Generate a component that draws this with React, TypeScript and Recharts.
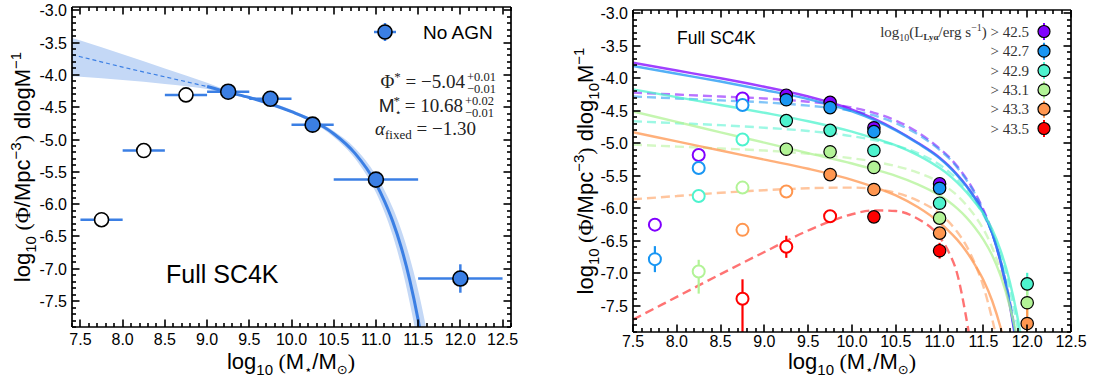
import React from 'react';
import { ComposedChart, Line, Area, Scatter, ErrorBar, XAxis, YAxis } from 'recharts';

const SANS = '"Liberation Sans", Arial, sans-serif';
const SERIF = '"Liberation Serif", "Times New Roman", serif';
const SYMBOL = '"DejaVu Sans", sans-serif';

// ---------- left panel: SC4K without AGN ----------
const noAgnOpenMass = [7.75, 8.25, 8.75];
const noAgnOpenPhi = [-6.24, -5.17, -4.31];
const noAgnOpenErr = [0.06, 0.03, 0.03];
const noAgnOpenBin = [0.25, 0.25, 0.25];

const noAgnMass = [9.25, 9.75, 10.25, 11.0, 12.0];
const noAgnPhi = [-4.26, -4.37, -4.77, -5.62, -7.15];
const noAgnErr = [0.03, 0.03, 0.04, 0.05, 0.22];
const noAgnBin = [0.25, 0.25, 0.25, 0.5, 0.5];

// Schechter fit, extrapolated part (dashed) and fitted range (solid)
const fitExtrapMass = [7.4, 7.5, 8.0, 8.5, 9.0];
const fitExtrapPhi = [-3.69, -3.72, -3.88, -4.03, -4.18];
const fitMass = [9.0, 9.25, 9.5, 9.75, 10.0, 10.25, 10.5, 10.75, 11.0, 11.1, 11.2, 11.3, 11.4, 11.5, 11.6];
const fitPhi = [-4.18, -4.27, -4.35, -4.45, -4.57, -4.71, -4.91, -5.21, -5.68, -5.95, -6.27, -6.67, -7.17, -7.79, -8.55];

// 1-sigma band of the fit
const bandMass = [7.4, 7.5, 8.0, 8.5, 9.0, 9.25, 9.5, 10.0, 10.5, 10.75, 11.0, 11.1, 11.2, 11.3, 11.4, 11.5, 11.6, 11.7];
const bandLow = [-4.02, -4.03, -4.08, -4.14, -4.22, -4.29, -4.37, -4.59, -4.96, -5.29, -5.82, -6.12, -6.49, -6.95, -7.52, -8.2, -9.0, -9.9];
const bandHigh = [-3.43, -3.47, -3.68, -3.9, -4.12, -4.24, -4.33, -4.54, -4.87, -5.13, -5.55, -5.78, -6.06, -6.4, -6.82, -7.33, -7.95, -8.7];

// ---------- right panel: Lya luminosity cuts ----------
const lumCuts = ['42.5', '42.7', '42.9', '43.1', '43.3', '43.5'];
const lumColors = ['#8000ff', '#1996f3', '#4df3ce', '#b2f396', '#ff964f', '#ff0000'];

const curveMass = [7.5, 8.0, 8.5, 9.0, 9.5, 10.0, 10.25, 10.5, 10.75, 11.0, 11.1, 11.2, 11.3, 11.4, 11.5, 11.6, 11.7, 11.8, 11.9, 12.0];

const solid425 = [-3.76, -3.88, -4.0, -4.13, -4.28, -4.48, -4.62, -4.79, -4.99, -5.22, -5.34, -5.48, -5.64, -5.83, -6.06, -6.38, -6.85, -7.48, -8.3, -9.2];
const solid427 = [-3.81, -3.93, -4.05, -4.18, -4.32, -4.51, -4.64, -4.8, -5.0, -5.23, -5.35, -5.49, -5.65, -5.84, -6.07, -6.38, -6.83, -7.45, -8.25, -9.1];
const solid429 = [-4.17, -4.29, -4.41, -4.53, -4.66, -4.82, -4.92, -5.03, -5.18, -5.38, -5.48, -5.6, -5.74, -5.9, -6.08, -6.32, -6.66, -7.12, -7.75, -8.6];
const solid431 = [-4.51, -4.67, -4.83, -4.99, -5.15, -5.31, -5.4, -5.5, -5.63, -5.8, -5.89, -6.0, -6.13, -6.29, -6.48, -6.72, -7.05, -7.5, -8.1, -8.9];
const solid433 = [-4.83, -4.97, -5.11, -5.25, -5.39, -5.56, -5.67, -5.8, -5.98, -6.22, -6.34, -6.48, -6.65, -6.86, -7.1, -7.42, -7.85, -8.4, -9.1, -10.0];

const dashed425 = [-4.22, -4.25, -4.28, -4.31, -4.36, -4.45, -4.53, -4.65, -4.83, -5.08, -5.2, -5.35, -5.53, -5.75, -6.02, -6.36, -6.82, -7.42, -8.2, -9.1];
const dashed427 = [-4.28, -4.31, -4.34, -4.37, -4.42, -4.5, -4.57, -4.69, -4.86, -5.1, -5.22, -5.37, -5.55, -5.77, -6.04, -6.38, -6.84, -7.45, -8.25, -9.1];
const dashed429 = [-4.66, -4.69, -4.72, -4.76, -4.81, -4.89, -4.95, -5.03, -5.15, -5.33, -5.43, -5.55, -5.7, -5.88, -6.1, -6.38, -6.75, -7.25, -7.9, -8.75];
const dashed431 = [-5.02, -5.05, -5.08, -5.11, -5.16, -5.23, -5.28, -5.35, -5.45, -5.6, -5.69, -5.8, -5.94, -6.11, -6.32, -6.6, -6.98, -7.48, -8.15, -9.0];
const dashed433 = [-5.86, -5.81, -5.76, -5.72, -5.69, -5.68, -5.7, -5.76, -5.88, -6.08, -6.2, -6.36, -6.56, -6.84, -7.2, -7.7, -8.3, -9.0, -9.8, -10.7];
const dashed435 = [-7.71, -7.36, -7.01, -6.67, -6.34, -6.09, -6.03, -6.04, -6.16, -6.44, -6.66, -7.0, -7.65, -8.5, -9.5];

// measured points per cut: open = below completeness, filled = used in the fits
const openMass425 = [7.75, 8.25, 8.75];
const openPhi425 = [-6.25, -5.18, -4.31];
const openErr425 = [[0.06, 0.06], [0.04, 0.04], [0.04, 0.04]];
const fillMass425 = [9.25, 9.75, 10.25, 11.0];
const fillPhi425 = [-4.26, -4.37, -4.76, -5.62];
const fillErr425 = [[0.03, 0.03], [0.03, 0.03], [0.04, 0.04], [0.05, 0.05]];

const openMass427 = [7.75, 8.25, 8.75];
const openPhi427 = [-6.78, -5.38, -4.41];
const openErr427 = [[0.2, 0.2], [0.04, 0.04], [0.03, 0.03]];
const fillMass427 = [9.25, 9.75, 10.25, 11.0];
const fillPhi427 = [-4.33, -4.45, -4.82, -5.69];
const fillErr427 = [[0.03, 0.03], [0.03, 0.03], [0.04, 0.04], [0.05, 0.05]];

const openMass429 = [8.25, 8.75];
const openPhi429 = [-5.81, -4.94];
const openErr429 = [[0.05, 0.05], [0.04, 0.04]];
const fillMass429 = [9.25, 9.75, 10.25, 11.0, 12.0];
const fillPhi429 = [-4.65, -4.8, -5.11, -5.92, -7.16];
const fillErr429 = [[0.03, 0.03], [0.03, 0.03], [0.04, 0.04], [0.06, 0.06], [0.17, 0.17]];

const openMass431 = [8.25, 8.75];
const openPhi431 = [-6.97, -5.68];
const openErr431 = [[0.34, 0.18], [0.06, 0.06]];
const fillMass431 = [9.25, 9.75, 10.25, 11.0, 12.0];
const fillPhi431 = [-5.09, -5.13, -5.37, -6.15, -7.45];
const fillErr431 = [[0.04, 0.04], [0.04, 0.04], [0.04, 0.04], [0.07, 0.07], [0.2, 0.2]];

const openMass433 = [8.75, 9.25];
const openPhi433 = [-6.33, -5.74];
const openErr433 = [[0.09, 0.09], [0.04, 0.04]];
const fillMass433 = [9.75, 10.25, 11.0, 12.0];
const fillPhi433 = [-5.48, -5.71, -6.38, -7.77];
const fillErr433 = [[0.04, 0.04], [0.04, 0.04], [0.08, 0.08], [0.25, 0.25]];

const openMass435 = [8.75, 9.25, 9.75];
const openPhi435 = [-7.39, -6.59, -6.12];
const openErr435 = [[1.0, 0.3], [0.17, 0.17], [0.06, 0.06]];
const fillMass435 = [10.25, 11.0];
const fillPhi435 = [-6.13, -6.65];
const fillErr435 = [[0.08, 0.08], [0.12, 0.12]];

// ---------- axes ----------
const Y_DOMAIN: [number, number] = [-7.9, -2.95];
const LEFT_X: [number, number] = [7.4, 12.6];
const RIGHT_X: [number, number] = [7.5, 12.5];
const tenths = (from: number, to: number) =>
  Array.from({ length: Math.round((to - from) * 10) + 1 }, (_, i) => Math.round((from + i * 0.1) * 10) / 10);
const isMajor = (v: number) => Math.abs(v * 2 - Math.round(v * 2)) < 1e-6;

const leftXTicks = tenths(7.4, 12.6);
const rightXTicks = tenths(7.5, 12.5);
const yTicks = tenths(-7.9, -3.0);

// plot boxes in page pixels (axis widths/heights below are derived from these)
type Box = { x0: number; x1: number; y0: number; y1: number };
const LEFT_BOX: Box = { x0: 72, x1: 511, y0: 7, y1: 327 };
const RIGHT_BOX: Box = { x0: 633, x1: 1071, y0: 10, y1: 332 };

const frame = { stroke: '#000', strokeWidth: 1.7 };
const tickFont = { fontFamily: SANS, fontSize: 16, fill: '#000' };

const xLabel = (gap: number) => (p: any) => (
  <text x={p.x} y={Number(p.y) + gap} textAnchor="middle" {...tickFont}>{Number(p.payload.value).toFixed(1)}</text>
);
const yLabel = (p: any) => (
  <text x={Number(p.x) - 5} y={Number(p.y) + 6} textAnchor="end" {...tickFont}>{Number(p.payload.value).toFixed(1)}</text>
);

// inward ticks on all four sides of a plot box: long every 0.5, short every 0.1
function TickMarks({ box, xDomain, xTicks }: { box: Box; xDomain: [number, number]; xTicks: number[] }) {
  const sx = (v: number) => Math.round(box.x0 + ((v - xDomain[0]) / (xDomain[1] - xDomain[0])) * (box.x1 - box.x0));
  const sy = (v: number) => Math.round(box.y1 - ((v - Y_DOMAIN[0]) / (Y_DOMAIN[1] - Y_DOMAIN[0])) * (box.y1 - box.y0));
  const len = (v: number) => (isMajor(v) ? 7.5 : 4);
  const marks: React.ReactNode[] = [];
  xTicks.forEach((v, i) => {
    const x = sx(v);
    marks.push(<rect key={`xb${i}`} x={x - 0.8} y={box.y1 - len(v)} width={1.6} height={len(v)} />);
    marks.push(<rect key={`xt${i}`} x={x - 0.8} y={box.y0} width={1.6} height={len(v)} />);
  });
  yTicks.forEach((v, i) => {
    const y = sy(v);
    marks.push(<rect key={`yl${i}`} x={box.x0} y={y - 0.8} width={len(v)} height={1.6} />);
    marks.push(<rect key={`yr${i}`} x={box.x1 - len(v)} y={y - 0.8} width={len(v)} height={1.6} />);
  });
  return <g fill="#000">{marks}</g>;
}

const lineData = (mass: number[], phi: number[]) => phi.map((p, i) => ({ x: mass[i], y: p }));

// error bars stop at the lower edge of the plot
const clipErr = (y: number, e: number | number[]) => {
  const [lo, hi] = Array.isArray(e) ? e : [e, e];
  return [Math.min(lo, y - Y_DOMAIN[0]), hi];
};
const pointData = (mass: number[], phi: number[], err: (number | number[])[], bin?: number[]) =>
  mass.map((m, i) => ({ x: m, y: phi[i], ey: clipErr(phi[i], err[i]), ex: bin ? bin[i] : 0 }));

const circle = (r: number, fill: string, stroke: string, sw: number) => (p: any) =>
  <circle cx={p.cx} cy={p.cy} r={r} fill={fill} stroke={stroke} strokeWidth={sw} />;

const NO_AGN = '#3b7fe4';

function LeftPanel() {
  const band = bandMass.map((m, i) => ({ x: m, band: [bandLow[i], bandHigh[i]] }));
  const W = 540;
  const H = 383;
  return (
    <ComposedChart width={W} height={H} margin={{ top: 0, right: 0, bottom: 0, left: 0 }}>
      <XAxis xAxisId="b" dataKey="x" type="number" orientation="bottom" domain={LEFT_X} allowDataOverflow
        ticks={leftXTicks.filter(isMajor)} interval={0} height={H - LEFT_BOX.y1} tickLine={false} tickSize={0}
        tickMargin={0} tick={xLabel(18)} axisLine={frame} />
      <XAxis xAxisId="t" type="number" orientation="top" domain={LEFT_X} allowDataOverflow
        height={LEFT_BOX.y0} tickLine={false} tick={false} axisLine={frame} />
      <YAxis yAxisId="l" type="number" orientation="left" domain={Y_DOMAIN} allowDataOverflow
        ticks={yTicks.filter(isMajor)} interval={0} width={LEFT_BOX.x0} tickLine={false} tickSize={0} tickMargin={0}
        tick={yLabel} axisLine={frame} />
      <YAxis yAxisId="r" type="number" orientation="right" domain={Y_DOMAIN} allowDataOverflow
        width={W - LEFT_BOX.x1} tickLine={false} tick={false} axisLine={frame} />

      <Area xAxisId="b" yAxisId="l" data={band} dataKey="band" type="monotone" stroke="none"
        fill="#c4d8f6" fillOpacity={1} isAnimationActive={false} activeDot={false} />
      <Line xAxisId="b" yAxisId="l" data={lineData(fitExtrapMass, fitExtrapPhi)} dataKey="y" type="monotone"
        stroke={NO_AGN} strokeWidth={1.2} strokeDasharray="4 3" dot={false} activeDot={false} isAnimationActive={false} />
      <Line xAxisId="b" yAxisId="l" data={lineData(fitMass, fitPhi)} dataKey="y" type="monotone"
        stroke={NO_AGN} strokeWidth={3} dot={false} activeDot={false} isAnimationActive={false} />

      <Scatter xAxisId="b" yAxisId="l" data={pointData(noAgnOpenMass, noAgnOpenPhi, noAgnOpenErr, noAgnOpenBin)}
        dataKey="y" shape={circle(7, '#fff', '#000', 1.6)} isAnimationActive={false}>
        <ErrorBar dataKey="ex" direction="x" width={0} stroke={NO_AGN} strokeWidth={2.5} />
        <ErrorBar dataKey="ey" direction="y" width={0} stroke={NO_AGN} strokeWidth={2.5} />
      </Scatter>
      <Scatter xAxisId="b" yAxisId="l" data={pointData(noAgnMass, noAgnPhi, noAgnErr, noAgnBin)}
        dataKey="y" shape={circle(7.5, NO_AGN, '#000', 1.6)} isAnimationActive={false}>
        <ErrorBar dataKey="ex" direction="x" width={0} stroke={NO_AGN} strokeWidth={2.5} />
        <ErrorBar dataKey="ey" direction="y" width={0} stroke={NO_AGN} strokeWidth={2.5} />
      </Scatter>
    </ComposedChart>
  );
}

const solidCurves = [solid425, solid427, solid429, solid431, solid433];
const dashedCurves = [dashed425, dashed427, dashed429, dashed431, dashed433, dashed435];
const openSets = [
  [openMass425, openPhi425, openErr425],
  [openMass427, openPhi427, openErr427],
  [openMass429, openPhi429, openErr429],
  [openMass431, openPhi431, openErr431],
  [openMass433, openPhi433, openErr433],
  [openMass435, openPhi435, openErr435],
] as const;
const fillSets = [
  [fillMass425, fillPhi425, fillErr425],
  [fillMass427, fillPhi427, fillErr427],
  [fillMass429, fillPhi429, fillErr429],
  [fillMass431, fillPhi431, fillErr431],
  [fillMass433, fillPhi433, fillErr433],
  [fillMass435, fillPhi435, fillErr435],
] as const;

const RIGHT_LEFT = 540;

function RightPanel() {
  const W = 559;
  const H = 383;
  return (
    <ComposedChart width={W} height={H} margin={{ top: 0, right: 0, bottom: 0, left: 0 }}>
      <XAxis xAxisId="b" dataKey="x" type="number" orientation="bottom" domain={RIGHT_X} allowDataOverflow
        ticks={rightXTicks.filter(isMajor)} interval={0} height={H - RIGHT_BOX.y1} tickLine={false} tickSize={0}
        tickMargin={0} tick={xLabel(15)} axisLine={frame} />
      <XAxis xAxisId="t" type="number" orientation="top" domain={RIGHT_X} allowDataOverflow
        height={RIGHT_BOX.y0} tickLine={false} tick={false} axisLine={frame} />
      <YAxis yAxisId="l" type="number" orientation="left" domain={Y_DOMAIN} allowDataOverflow
        ticks={yTicks.filter(isMajor)} interval={0} width={RIGHT_BOX.x0 - RIGHT_LEFT} tickLine={false} tickSize={0}
        tickMargin={0} tick={yLabel} axisLine={frame} />
      <YAxis yAxisId="r" type="number" orientation="right" domain={Y_DOMAIN} allowDataOverflow
        width={RIGHT_LEFT + W - RIGHT_BOX.x1} tickLine={false} tick={false} axisLine={frame} />

      {dashedCurves.map((c, i) => (
        <Line key={`d${i}`} xAxisId="b" yAxisId="l" data={lineData(curveMass, c)} dataKey="y" type="monotone"
          stroke={lumColors[i]} strokeOpacity={0.55} strokeWidth={2.4} strokeDasharray="9 5"
          dot={false} activeDot={false} isAnimationActive={false} />
      ))}
      {solidCurves.map((c, i) => (
        <Line key={`s${i}`} xAxisId="b" yAxisId="l" data={lineData(curveMass, c)} dataKey="y" type="monotone"
          stroke={lumColors[i]} strokeOpacity={0.75} strokeWidth={2.4}
          dot={false} activeDot={false} isAnimationActive={false} />
      ))}

      {openSets.map(([m, p, e], i) => (
        <Scatter key={`o${i}`} xAxisId="b" yAxisId="l" data={pointData(m as number[], p as number[], e as any)}
          dataKey="y" shape={circle(6, '#fff', lumColors[i], 2)} isAnimationActive={false}>
          <ErrorBar dataKey="ey" direction="y" width={0} stroke={lumColors[i]} strokeWidth={2.2} />
        </Scatter>
      ))}
      {fillSets.map(([m, p, e], i) => (
        <Scatter key={`f${i}`} xAxisId="b" yAxisId="l" data={pointData(m as number[], p as number[], e as any)}
          dataKey="y" shape={circle(6.2, lumColors[i], '#000', 1.2)} isAnimationActive={false}>
          <ErrorBar dataKey="ey" direction="y" width={0} stroke={lumColors[i]} strokeWidth={2.2} />
        </Scatter>
      ))}
    </ComposedChart>
  );
}

function Labels() {
  const legendY = [31.5, 51.2, 70.6, 89.9, 109.2, 128.5];
  return (
    <svg width={1099} height={383} style={{ position: 'absolute', left: 0, top: 0, pointerEvents: 'none' }}>
      <TickMarks box={LEFT_BOX} xDomain={LEFT_X} xTicks={leftXTicks} />
      <TickMarks box={RIGHT_BOX} xDomain={RIGHT_X} xTicks={rightXTicks} />

      {/* axis titles */}
      <text transform="translate(30,167) rotate(-90)" textAnchor="middle" fontFamily={SANS} fontSize={22} fill="#000">
        {'log'}<tspan fontSize={15} dy={6}>10</tspan><tspan dy={-6} fontFamily={SERIF}>{' ('}</tspan>
        <tspan fontFamily={SERIF}>Φ</tspan>{'/Mpc'}<tspan fontSize={15} dy={-9}>−3</tspan>
        <tspan dy={9} fontFamily={SERIF}>)</tspan>{' dlogM'}<tspan fontSize={15} dy={-9}>−1</tspan>
      </text>
      <text transform="translate(593,171) rotate(-90)" textAnchor="middle" fontFamily={SANS} fontSize={22} fill="#000">
        {'log'}<tspan fontSize={15} dy={6}>10</tspan><tspan dy={-6} fontFamily={SERIF}>{' ('}</tspan>
        <tspan fontFamily={SERIF}>Φ</tspan>{'/Mpc'}<tspan fontSize={15} dy={-9}>−3</tspan>
        <tspan dy={9} fontFamily={SERIF}>)</tspan>{' dlog'}<tspan fontSize={15} dy={6}>10</tspan>
        <tspan dy={-6}>M</tspan><tspan fontSize={15} dy={-9}>−1</tspan>
      </text>
      {[291, 852].map((cx) => (
        <text key={cx} x={cx} y={369} textAnchor="middle" fontFamily={SANS} fontSize={22} fill="#000">
          {'log'}<tspan fontSize={15} dy={6}>10</tspan><tspan dy={-6} fontFamily={SERIF}>{' ('}</tspan>
          {'M'}<tspan fontSize={13} dy={5} fontFamily={SYMBOL}>⋆</tspan><tspan dy={-5}>/M</tspan>
          <tspan fontSize={13} dy={5} fontFamily={SYMBOL}>⊙</tspan>
          <tspan dy={-5} fontFamily={SERIF}>)</tspan>
        </text>
      ))}

      {/* left panel legend and fit parameters */}
      <line x1={374} y1={32} x2={396} y2={32} stroke={NO_AGN} strokeWidth={2.5} />
      <line x1={385} y1={23} x2={385} y2={41} stroke={NO_AGN} strokeWidth={2.5} />
      <circle cx={385} cy={32} r={7} fill={NO_AGN} stroke="#000" strokeWidth={1.6} />
      <text x={423} y={39} fontFamily={SANS} fontSize={19} fill="#000">No AGN</text>

      <text x={465} y={88} textAnchor="end" fontFamily={SERIF} fontSize={19} fill="#222">
        {'Φ'}<tspan fontSize={13} dy={-7}>*</tspan><tspan dy={7}>{' = −5.04'}</tspan>
      </text>
      <text x={467} y={81} fontFamily={SERIF} fontSize={12.5} fill="#222">+0.01</text>
      <text x={467} y={93} fontFamily={SERIF} fontSize={12.5} fill="#222">−0.01</text>

      <text x={463} y={112} textAnchor="end" fontFamily={SERIF} fontSize={19} fill="#222">
        <tspan fontFamily={SANS}>M</tspan><tspan fontSize={11} dy={4} fontFamily={SYMBOL}>⋆</tspan>
        <tspan fontSize={13} dx={-8} dy={-11}>*</tspan><tspan dy={7}>{' = 10.68'}</tspan>
      </text>
      <text x={465} y={105} fontFamily={SERIF} fontSize={12.5} fill="#222">+0.02</text>
      <text x={465} y={117} fontFamily={SERIF} fontSize={12.5} fill="#222">−0.01</text>

      <text x={375} y={135} fontFamily={SERIF} fontSize={19} fill="#222">
        <tspan fontStyle="italic">α</tspan><tspan fontSize={13} dy={4}>fixed</tspan><tspan dy={-4}>{' = −1.30'}</tspan>
      </text>

      <text x={166} y={283} fontFamily={SANS} fontSize={25} fill="#000">Full SC4K</text>
      <text x={677} y={44} fontFamily={SANS} fontSize={17.5} fill="#000">Full SC4K</text>

      {/* right panel legend */}
      {lumCuts.map((cut, i) => (
        <g key={cut}>
          <text x={1029} y={legendY[i] + 5} textAnchor="end" fontFamily={SERIF} fontSize={15} fill="#333">
            {i === 0 ? (
              <>
                {'log'}<tspan fontSize={10} dy={4}>10</tspan><tspan dy={-4}>(L</tspan>
                <tspan fontSize={9} dy={3} fontWeight="bold">Lyα</tspan><tspan dy={-3}>/erg s</tspan>
                <tspan fontSize={10} dy={-6}>−1</tspan><tspan dy={6}>{')  > ' + cut}</tspan>
              </>
            ) : (
              '> ' + cut
            )}
          </text>
          <line x1={1044} y1={legendY[i] - 8.5} x2={1044} y2={legendY[i] + 8.5} stroke={lumColors[i]} strokeWidth={2} />
          <circle cx={1044} cy={legendY[i]} r={6} fill={lumColors[i]} stroke="#000" strokeWidth={1.2} />
        </g>
      ))}
    </svg>
  );
}

export default function App() {
  return (
    <div style={{ position: 'absolute', left: 0, top: 0, width: 1099, height: 383, background: '#fff' }}>
      <div style={{ position: 'absolute', left: 0, top: 0 }}>
        <LeftPanel />
      </div>
      <div style={{ position: 'absolute', left: RIGHT_LEFT, top: 0 }}>
        <RightPanel />
      </div>
      <Labels />
    </div>
  );
}
